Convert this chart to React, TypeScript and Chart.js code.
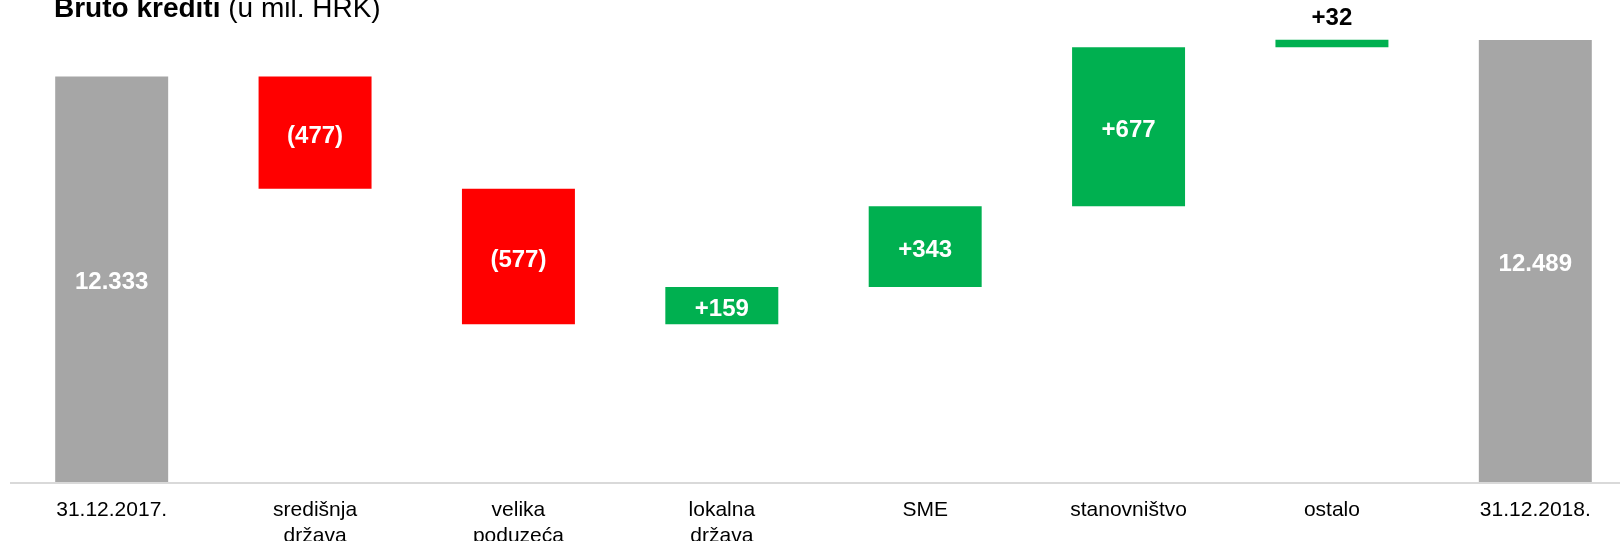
import React, { useEffect, useRef } from "react";
import { Chart, registerables } from "chart.js";

Chart.register(...registerables);

const categories: (string | string[])[] = [
  "31.12.2017.",
  ["središnja", "država"],
  ["velika", "poduzeća"],
  ["lokalna", "država"],
  "SME",
  "stanovništvo",
  "ostalo",
  "31.12.2018.",
];
const values = [12333, -477, -577, 159, 343, 677, 32, 12489];
const isTotal = [true, false, false, false, false, false, false, true];
const valueLabels = ["12.333", "(477)", "(577)", "+159", "+343", "+677", "+32", "12.489"];
const labelOutside = [false, false, false, false, false, false, true, false];

const Y_MIN = 10608;
const Y_MAX = 12659;

const FONT = '"Liberation Sans", Arial, sans-serif';
const GREY = "#a6a6a6";
const RED = "#ff0000";
const GREEN = "#00b050";

function buildBars() {
  const bars: [number, number][] = [];
  const colors: string[] = [];
  let running = 0;
  values.forEach((v, i) => {
    if (isTotal[i]) {
      bars.push([0, v]);
      running = v;
      colors.push(GREY);
    } else {
      const start = running;
      running = running + v;
      bars.push([start, running]);
      colors.push(v < 0 ? RED : GREEN);
    }
  });
  return { bars, colors };
}

const overlayPlugin = {
  id: "overlay",
  afterDatasetsDraw(chart: any) {
    const ctx = chart.ctx as CanvasRenderingContext2D;
    const area = chart.chartArea;
    const meta = chart.getDatasetMeta(0);
    ctx.save();
    // axis line
    ctx.strokeStyle = "#d9d9d9";
    ctx.lineWidth = 2;
    ctx.beginPath();
    ctx.moveTo(10, area.bottom + 1);
    ctx.lineTo(chart.width, area.bottom + 1);
    ctx.stroke();

    // value labels
    ctx.font = `bold 24px ${FONT}`;
    ctx.textAlign = "center";
    ctx.textBaseline = "middle";
    meta.data.forEach((el: any, i: number) => {
      const top = Math.min(el.y, el.base);
      const bottom = Math.min(Math.max(el.y, el.base), area.bottom);
      if (labelOutside[i]) {
        ctx.fillStyle = "#000000";
        ctx.fillText(valueLabels[i], el.x, top - 21);
      } else {
        ctx.fillStyle = "#ffffff";
        ctx.fillText(valueLabels[i], el.x, (top + bottom) / 2 + 3.5);
      }
    });

    // category labels
    ctx.font = `21px ${FONT}`;
    ctx.fillStyle = "#000000";
    ctx.textBaseline = "alphabetic";
    const xScale = chart.scales.x;
    categories.forEach((c, i) => {
      const x = xScale.getPixelForValue(i);
      const lines = Array.isArray(c) ? c : [c];
      lines.forEach((line, j) => {
        ctx.fillText(line, x, area.bottom + 34 + j * 25.5);
      });
    });
    ctx.restore();
  },
};

export default function App() {
  const canvasRef = useRef<HTMLCanvasElement | null>(null);

  useEffect(() => {
    const canvas = canvasRef.current;
    if (!canvas) return;
    const { bars, colors } = buildBars();
    const chart = new Chart(canvas, {
      type: "bar",
      data: {
        labels: categories.map((c) => (Array.isArray(c) ? c.join(" ") : c)),
        datasets: [
          {
            data: bars as any,
            backgroundColor: colors,
            borderWidth: 0,
            barPercentage: 0.5555,
            categoryPercentage: 1,
            clip: 0 as any,
          },
        ],
      },
      options: {
        responsive: false,
        animation: false,
        devicePixelRatio: 1,
        layout: { padding: { left: 10, right: 13, top: 0, bottom: 59 } },
        plugins: {
          legend: { display: false },
          tooltip: { enabled: false },
          title: { display: false },
        },
        scales: {
          x: { display: false, offset: true, grid: { display: false } },
          y: { display: false, min: Y_MIN, max: Y_MAX, grid: { display: false } },
        },
      },
      plugins: [overlayPlugin],
    });
    return () => chart.destroy();
  }, []);

  return (
    <div
      style={{
        position: "fixed",
        left: 0,
        top: 0,
        width: 1620,
        height: 541,
        overflow: "hidden",
        background: "#ffffff",
      }}
    >
      <canvas ref={canvasRef} width={1650} height={541} style={{ display: "block" }} />
      <div
        style={{
          position: "absolute",
          left: 54,
          top: -6,
          fontFamily: FONT,
          fontSize: 28,
          lineHeight: "28px",
          whiteSpace: "nowrap",
          color: "#000000",
        }}
      >
        <b>Bruto krediti</b> (u mil. HRK)
      </div>
    </div>
  );
}
